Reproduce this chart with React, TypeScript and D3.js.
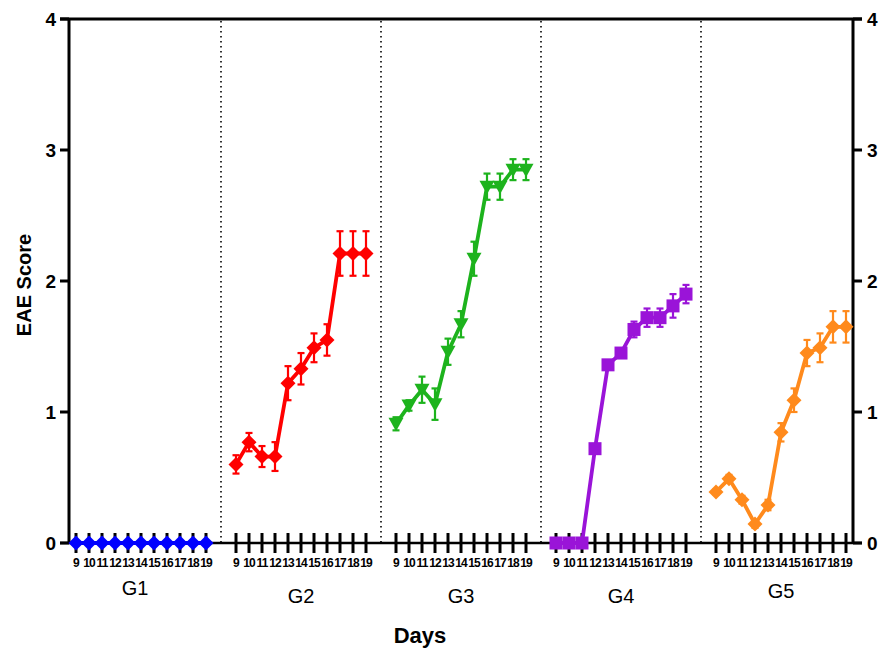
import React from "react";
import * as d3 from "d3";

const days = [9, 10, 11, 12, 13, 14, 15, 16, 17, 18, 19];
const groups = ["G1", "G2", "G3", "G4", "G5"];
const yTicks = [0, 1, 2, 3, 4];

const g1Mean = [0, 0, 0, 0, 0, 0, 0, 0, 0, 0, 0];
const g1Err = [0, 0, 0, 0, 0, 0, 0, 0, 0, 0, 0];
const g2Mean = [0.6, 0.77, 0.66, 0.66, 1.22, 1.33, 1.49, 1.55, 2.21, 2.21, 2.21];
const g2Err = [0.07, 0.07, 0.08, 0.11, 0.13, 0.12, 0.11, 0.12, 0.17, 0.17, 0.17];
const g3Mean = [0.91, 1.05, 1.17, 1.06, 1.46, 1.67, 2.17, 2.72, 2.72, 2.85, 2.85];
const g3Err = [0.05, 0.04, 0.1, 0.12, 0.1, 0.1, 0.13, 0.1, 0.1, 0.08, 0.08];
const g4Mean = [0, 0, 0, 0.72, 1.36, 1.45, 1.63, 1.72, 1.72, 1.81, 1.9];
const g4Err = [0, 0, 0, 0, 0.02, 0.03, 0.06, 0.07, 0.07, 0.09, 0.07];
const g5Mean = [0.39, 0.49, 0.33, 0.145, 0.29, 0.845, 1.09, 1.45, 1.49, 1.65, 1.65];
const g5Err = [0.02, 0.03, 0.03, 0.03, 0.04, 0.07, 0.09, 0.1, 0.11, 0.12, 0.12];

const series = [
  { name: "G1", mean: g1Mean, err: g1Err, color: "#0000ff", shape: "diamond" },
  { name: "G2", mean: g2Mean, err: g2Err, color: "#ff0000", shape: "diamond" },
  { name: "G3", mean: g3Mean, err: g3Err, color: "#1db31d", shape: "triangle" },
  { name: "G4", mean: g4Mean, err: g4Err, color: "#9a14d8", shape: "square" },
  { name: "G5", mean: g5Mean, err: g5Err, color: "#ff8a1c", shape: "diamond" },
];

// group label vertical offsets (as in the figure)
const groupLabelY = [595, 603, 603, 603, 598];

const W = 888;
const H = 651;
const left = 69;
const right = 853;
const top = 19;
const bottom = 543;

const App = () => {
  const y = d3.scaleLinear().domain([0, 4]).range([bottom, top]);
  const gx = d3
    .scaleBand()
    .domain(groups)
    .range([left + 7 - 15, right - 7 + 15])
    .paddingInner(0)
    .paddingOuter(0);
  const dx = d3
    .scaleLinear()
    .domain([9, 19])
    .range([15, gx.bandwidth() - 15]);
  const xPos = (g, d) => gx(g) + dx(d);

  const line = d3
    .line()
    .x((d) => d[0])
    .y((d) => d[1]);

  const marker = (shape, cx, cy, color, key) => {
    if (shape === "diamond") {
      const s = 7.5;
      return (
        <path
          key={key}
          d={`M${cx},${cy - s}L${cx + s},${cy}L${cx},${cy + s}L${cx - s},${cy}Z`}
          fill={color}
        />
      );
    }
    if (shape === "triangle") {
      return (
        <path
          key={key}
          d={`M${cx - 7.5},${cy - 6}L${cx + 7.5},${cy - 6}L${cx},${cy + 7.5}Z`}
          fill={color}
        />
      );
    }
    return <rect key={key} x={cx - 6.5} y={cy - 6.5} width={13} height={13} fill={color} />;
  };

  const font = "Arial, 'Liberation Sans', sans-serif";

  return (
    <svg
      width={W}
      height={H}
      style={{ position: "absolute", left: 0, top: 0, background: "#fff" }}
      fontFamily={font}
    >
      {/* dotted dividers */}
      {groups.slice(1).map((g) => (
        <line
          key={"div" + g}
          x1={gx(g)}
          x2={gx(g)}
          y1={top + 2}
          y2={bottom}
          stroke="#000"
          strokeWidth={1.6}
          strokeDasharray="1.5,3.5"
        />
      ))}

      {/* frame: top line, left and right axes */}
      <line x1={left - 9} x2={right + 9} y1={top} y2={top} stroke="#000" strokeWidth={3} />
      <line x1={left} x2={left} y1={top} y2={bottom} stroke="#000" strokeWidth={3} />
      <line x1={right} x2={right} y1={top} y2={bottom} stroke="#000" strokeWidth={3} />
      <line x1={left - 9} x2={right + 9} y1={bottom} y2={bottom} stroke="#000" strokeWidth={2.5} />

      {yTicks.map((t) => (
        <g key={"yt" + t}>
          <line x1={left - 9} x2={left} y1={y(t)} y2={y(t)} stroke="#000" strokeWidth={3} />
          <line x1={right} x2={right + 9} y1={y(t)} y2={y(t)} stroke="#000" strokeWidth={3} />
          <text
            x={left - 13}
            y={y(t)}
            dy="0.36em"
            textAnchor="end"
            fontSize={19}
            fontWeight="bold"
          >
            {t}
          </text>
          <text
            x={right + 14}
            y={y(t)}
            dy="0.36em"
            textAnchor="start"
            fontSize={19}
            fontWeight="bold"
          >
            {t}
          </text>
        </g>
      ))}

      {/* x ticks and day labels */}
      {groups.map((g, gi) => (
        <g key={"xt" + g}>
          {days.map((d) => (
            <g key={d}>
              <line
                x1={xPos(g, d)}
                x2={xPos(g, d)}
                y1={bottom - 10}
                y2={bottom + 10}
                stroke="#000"
                strokeWidth={3}
              />
              <text
                x={xPos(g, d)}
                y={567}
                textAnchor="middle"
                fontSize={12}
                fontWeight="bold"
                letterSpacing={-0.9}
              >
                {d}
              </text>
            </g>
          ))}
          <text
            x={gx(g) + gx.bandwidth() / 2 + [-6, 0, 0, 0, 0][gi]}
            y={groupLabelY[gi]}
            textAnchor="middle"
            fontSize={20}
          >
            {g}
          </text>
        </g>
      ))}

      {/* series */}
      {series.map((s) => {
        const pts = days.map((d, i) => [xPos(s.name, d), y(s.mean[i])]);
        return (
          <g key={s.name}>
            <path
              d={line(pts)}
              fill="none"
              stroke={s.color}
              strokeWidth={3.8}
              strokeLinejoin="round"
            />
            {days.map((d, i) => {
              if (!s.err[i]) return null;
              const cx = xPos(s.name, d);
              const y1 = y(s.mean[i] + s.err[i]);
              const y2 = y(s.mean[i] - s.err[i]);
              return (
                <g key={"e" + d} stroke={s.color} strokeWidth={2.2}>
                  <line x1={cx} x2={cx} y1={y1} y2={y2} />
                  <line x1={cx - 3.5} x2={cx + 3.5} y1={y1} y2={y1} />
                  <line x1={cx - 3.5} x2={cx + 3.5} y1={y2} y2={y2} />
                </g>
              );
            })}
            {days.map((d, i) =>
              marker(s.shape, xPos(s.name, d), y(s.mean[i]), s.color, "m" + d)
            )}
          </g>
        );
      })}

      {/* axis titles */}
      <text x={420} y={643} textAnchor="middle" fontSize={22} fontWeight="bold">
        Days
      </text>
      <text
        transform={`translate(31,285) rotate(-90)`}
        textAnchor="middle"
        fontSize={20}
        fontWeight="bold"
      >
        EAE Score
      </text>
    </svg>
  );
};

export default App;
